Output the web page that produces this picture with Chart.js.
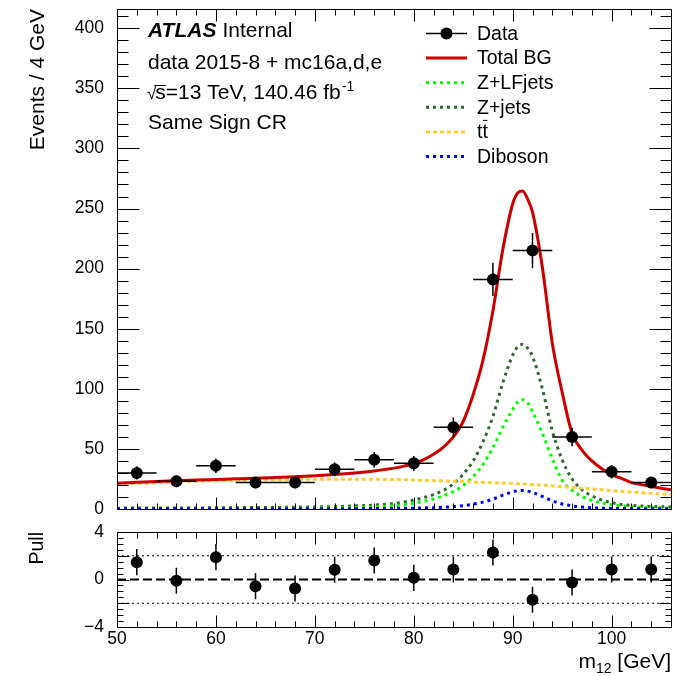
<!DOCTYPE html>
<html>
<head>
<meta charset="utf-8">
<script src="https://cdn.jsdelivr.net/npm/chart.js@4.4.1/dist/chart.umd.min.js"></script>
<style>
  html, body { margin: 0; padding: 0; background: #fff; }
  #wrap { position: relative; width: 692px; height: 676px; }
  #main { position: absolute; left: 0; top: 0; }
  #pull { position: absolute; left: 0; top: 520px; }
</style>
</head>
<body>
<div id="wrap">
  <canvas id="main" width="692" height="520"></canvas>
  <canvas id="pull" width="692" height="156"></canvas>
</div>
<script>
const FONT = '"Liberation Sans", Arial, Helvetica, sans-serif';

// data points (4 GeV bins)
const binCenters = [52, 56, 60, 64, 68, 72, 76, 80, 84, 88, 92, 96, 100, 104];
const binHalfWidth = 2;
const dataCounts = [30, 23, 36, 22, 22, 33, 41, 38, 68, 191, 215, 60, 31, 22];
const dataErr = [5.5, 4.8, 6, 4.7, 4.7, 5.7, 6.4, 6.2, 8.2, 13.8, 14.6, 7.7, 5.6, 4.7];

// pull panel
const pullValues = [1.46, -0.1, 1.88, -0.56, -0.76, 0.82, 1.6, 0.14, 0.84, 2.27, -1.71, -0.25, 0.84, 0.84];
const pullErr = [1.1, 1.1, 1.1, 1.1, 1.1, 1.1, 1.1, 1.1, 1.1, 1.1, 1.1, 1.1, 1.1, 1.1];

// background curves
const curveX = [50, 52, 54, 56, 58, 60, 62, 64, 66, 68, 70, 72, 74, 76, 78, 79, 80, 81, 82, 83, 84, 85, 86, 87, 88, 89, 90, 90.5, 91, 91.5, 92, 93, 94, 95, 96, 97, 98, 99, 100, 101, 102, 103, 104, 105, 106];
const totalBG = [21.5, 22.2, 22.9, 23.5, 24.1, 24.6, 25.1, 25.6, 26.2, 26.9, 27.7, 28.7, 30.0, 31.7, 34.0, 35.7, 37.8, 41.0, 45.5, 51.5, 60, 73, 95, 124, 165, 216, 254, 263, 264.5, 258, 247, 201, 138, 97, 63, 49, 40, 33.5, 28.5, 25.5, 22, 20.3, 18.8, 17.3, 16];
const zLFjets = [0.2, 0.2, 0.2, 0.3, 0.3, 0.3, 0.4, 0.4, 0.5, 0.6, 0.7, 0.9, 1.2, 1.8, 2.8, 3.6, 4.8, 6.3, 8.3, 11, 14.5, 19.5, 27, 37, 51, 68, 83, 89, 91, 88.5, 81, 63, 42, 24, 15.5, 10.5, 7.2, 5, 3.6, 2.6, 2, 1.5, 1.2, 1, 0.8];
const zJets = [0.7, 0.8, 0.8, 0.9, 0.9, 1.0, 1.1, 1.2, 1.3, 1.5, 1.7, 2.0, 2.5, 3.2, 4.6, 5.8, 7.4, 9.5, 12, 15.5, 21, 29, 40, 56, 77, 105, 128, 135, 137, 134, 127, 100, 65, 41, 25, 16, 11, 7.5, 5.3, 3.8, 3.0, 2.5, 2.1, 1.9, 1.7];
const ttbar = [20.5, 21.2, 21.8, 22.4, 23.0, 23.5, 23.9, 24.2, 24.5, 24.7, 24.8, 24.8, 24.8, 24.7, 24.5, 24.3, 24.1, 23.8, 23.6, 23.3, 23.1, 22.8, 22.5, 22.2, 21.9, 21.6, 21.2, 21.0, 20.8, 20.6, 20.3, 19.8, 19.2, 18.5, 17.9, 17.2, 16.6, 16.0, 15.3, 14.7, 14.1, 13.5, 13.0, 12.5, 12.0];
const diboson = [0.2, 0.2, 0.2, 0.2, 0.2, 0.2, 0.2, 0.3, 0.3, 0.3, 0.3, 0.3, 0.3, 0.4, 0.5, 0.6, 0.7, 0.9, 1.1, 1.5, 2.0, 2.8, 4.0, 5.7, 8.2, 11.5, 14.3, 15.2, 15.4, 14.9, 13.8, 10.5, 6.8, 4.2, 2.6, 1.6, 1.0, 0.7, 0.5, 0.4, 0.3, 0.3, 0.3, 0.3, 0.3];

// axes
const xMin = 50, xMax = 106;
const mainYMax = 416;
const mainYTicks = [0, 50, 100, 150, 200, 250, 300, 350, 400];
const pullYTicks = [-4, -2, 0, 2, 4];
const xTicks = [50, 60, 70, 80, 90, 100];
const pullRefLevels = [-2, 0, 2];

const pts = ys => curveX.map((x, i) => ({ x: x, y: ys[i] }));

// ROOT style frame with inward ticks
function drawFrame(chart, spec) {
  const ctx = chart.ctx;
  const a = chart.chartArea;
  const xs = chart.scales.x, ys = chart.scales.y;
  const L = a.left + 0.5, R = a.right + 0.5, T = a.top + 0.5, B = a.bottom + 0.5;
  ctx.save();
  ctx.setLineDash([]);
  ctx.strokeStyle = "#000";
  ctx.lineWidth = 1;
  ctx.beginPath();
  ctx.rect(L, T, R - L, B - T);
  ctx.stroke();

  ctx.beginPath();
  let n = Math.round((spec.xMax - spec.xMin) / spec.xMinor);
  for (let i = 0; i <= n; i++) {
    const v = spec.xMin + i * spec.xMinor;
    const major = Math.abs(v / spec.xMajor - Math.round(v / spec.xMajor)) < 1e-6;
    const len = major ? spec.xLen[0] : spec.xLen[1];
    const px = Math.round(xs.getPixelForValue(v)) + 0.5;
    ctx.moveTo(px, B); ctx.lineTo(px, B - len);
    ctx.moveTo(px, T); ctx.lineTo(px, T + len);
  }
  n = Math.floor((spec.yMax - spec.yMin) / spec.yMinor + 1e-6);
  for (let i = 0; i <= n; i++) {
    const v = spec.yMin + i * spec.yMinor;
    const major = Math.abs(v / spec.yMajor - Math.round(v / spec.yMajor)) < 1e-6;
    const len = major ? spec.yLen[0] : spec.yLen[1];
    const py = Math.round(ys.getPixelForValue(v)) + 0.5;
    ctx.moveTo(L, py); ctx.lineTo(L + len, py);
    ctx.moveTo(R, py); ctx.lineTo(R - len, py);
  }
  ctx.stroke();
  ctx.restore();
}

function drawLegend(chart) {
  const ctx = chart.ctx;
  const x0 = 426, x1 = 467, tx = 477, y0 = 33.5, dy = 24.6;
  ctx.save();
  ctx.font = "19.5px " + FONT;
  ctx.textBaseline = "middle";
  ctx.textAlign = "left";
  chart.data.datasets.forEach((ds, i) => {
    if (!ds.inLegend) return;
    const yy = y0 + i * dy;
    if (ds.label === "Data") {
      ctx.strokeStyle = "#000";
      ctx.lineWidth = 1.5;
      ctx.setLineDash([]);
      ctx.beginPath(); ctx.moveTo(x0, yy); ctx.lineTo(x1, yy); ctx.stroke();
      ctx.fillStyle = "#000";
      ctx.beginPath(); ctx.arc((x0 + x1) / 2, yy, 6, 0, Math.PI * 2); ctx.fill();
    } else {
      ctx.strokeStyle = ds.borderColor;
      ctx.lineWidth = ds.borderWidth;
      ctx.setLineDash(ds.borderDash || []);
      ctx.beginPath(); ctx.moveTo(x0, yy); ctx.lineTo(x1, yy); ctx.stroke();
      ctx.setLineDash([]);
    }
    ctx.fillStyle = "#000";
    if (ds.label === "tt") {
      ctx.fillText("tt", tx, yy + 1);
      const w1 = ctx.measureText("t").width, w2 = ctx.measureText("tt").width;
      ctx.strokeStyle = "#000";
      ctx.lineWidth = 1;
      ctx.beginPath(); ctx.moveTo(tx + w1 + 0.5, yy - 11.5); ctx.lineTo(tx + w2 - 0.5, yy - 11.5); ctx.stroke();
    } else {
      ctx.fillText(ds.label, tx, yy + 1);
    }
  });
  ctx.restore();
}

function drawAtlasText(chart) {
  const ctx = chart.ctx;
  const x = 148;
  ctx.save();
  ctx.fillStyle = "#000";
  ctx.textBaseline = "alphabetic";
  ctx.textAlign = "left";
  ctx.font = "italic bold 21px " + FONT;
  ctx.fillText("ATLAS", x, 37);
  const wA = ctx.measureText("ATLAS").width;
  ctx.font = "21px " + FONT;
  ctx.fillText("Internal", x + wA + 6, 37);
  ctx.fillText("data 2015-8 + mc16a,d,e", x, 69);
  // sqrt(s) line
  let cx = x;
  ctx.font = "17px " + FONT;
  ctx.fillText("\u221A", cx - 1, 99);
  cx += ctx.measureText("\u221A").width - 2;
  ctx.font = "21px " + FONT;
  const ws = ctx.measureText("s").width;
  ctx.fillText("s", cx, 99);
  ctx.strokeStyle = "#000";
  ctx.lineWidth = 1;
  ctx.beginPath(); ctx.moveTo(cx - 1, 85.5); ctx.lineTo(cx + ws, 85.5); ctx.stroke();
  cx += ws;
  const rest = "=13 TeV, 140.46 fb";
  ctx.fillText(rest, cx, 99);
  cx += ctx.measureText(rest).width + 1;
  ctx.font = "14px " + FONT;
  ctx.fillText("-1", cx, 91);
  ctx.font = "21px " + FONT;
  ctx.fillText("Same Sign CR", x, 129);
  ctx.restore();
}

const mainPlugin = {
  id: "mainDecor",
  afterDatasetDraw(chart, args) {
    if (args.index !== 0) return;
    const { ctx, scales: { x, y } } = chart;
    ctx.save();
    ctx.strokeStyle = "#000";
    ctx.lineWidth = 1.5;
    ctx.beginPath();
    binCenters.forEach((c, i) => {
      const px = x.getPixelForValue(c);
      const py = y.getPixelForValue(dataCounts[i]);
      ctx.moveTo(x.getPixelForValue(c - binHalfWidth), py);
      ctx.lineTo(x.getPixelForValue(c + binHalfWidth), py);
      ctx.moveTo(px, y.getPixelForValue(dataCounts[i] - dataErr[i]));
      ctx.lineTo(px, y.getPixelForValue(dataCounts[i] + dataErr[i]));
    });
    ctx.stroke();
    ctx.restore();
  },
  afterDraw(chart) {
    drawFrame(chart, { xMin: xMin, xMax: xMax, xMajor: 10, xMinor: 2, xLen: [12, 6],
      yMin: 0, yMax: mainYMax, yMajor: 50, yMinor: 10, yLen: [22, 11] });
    drawLegend(chart);
    drawAtlasText(chart);
  }
};

const pullPlugin = {
  id: "pullDecor",
  afterDatasetDraw(chart, args) {
    if (args.index !== 0) return;
    const { ctx, scales: { x, y } } = chart;
    ctx.save();
    ctx.strokeStyle = "#000";
    ctx.lineWidth = 1.5;
    ctx.beginPath();
    binCenters.forEach((c, i) => {
      const px = x.getPixelForValue(c);
      ctx.moveTo(px, y.getPixelForValue(pullValues[i] - pullErr[i]));
      ctx.lineTo(px, y.getPixelForValue(pullValues[i] + pullErr[i]));
    });
    ctx.stroke();
    ctx.restore();
  },
  afterDraw(chart) {
    drawFrame(chart, { xMin: xMin, xMax: xMax, xMajor: 10, xMinor: 2, xLen: [12, 6],
      yMin: -4, yMax: 4, yMajor: 2, yMinor: 0.5, yLen: [12, 6] });
    // x axis title with subscript
    const ctx = chart.ctx;
    const right = chart.chartArea.right;
    const base = 148;
    ctx.save();
    ctx.fillStyle = "#000";
    ctx.textAlign = "left";
    ctx.textBaseline = "alphabetic";
    ctx.font = "21px " + FONT;
    const wm = ctx.measureText("m").width;
    const wg = ctx.measureText(" [GeV]").width;
    ctx.font = "14px " + FONT;
    const wsub = ctx.measureText("12").width;
    let cx = right - (wm + wsub + wg);
    ctx.font = "21px " + FONT;
    ctx.fillText("m", cx, base);
    cx += wm;
    ctx.font = "14px " + FONT;
    ctx.fillText("12", cx, base + 5);
    cx += wsub;
    ctx.font = "21px " + FONT;
    ctx.fillText(" [GeV]", cx, base);
    ctx.restore();
  }
};

function fixY(width) {
  return function (s) {
    s.width = width;
    s.paddingTop = 0; s.paddingBottom = 0; s.paddingLeft = 0; s.paddingRight = 0;
  };
}

const tickFont = { family: FONT, size: 17.5 };

new Chart(document.getElementById("main").getContext("2d"), {
  type: "line",
  data: {
    datasets: [
      { label: "Data", inLegend: true, data: binCenters.map((c, i) => ({ x: c, y: dataCounts[i] })),
        showLine: false, pointRadius: 6, pointBackgroundColor: "#000", pointBorderWidth: 0, order: 0 },
      { label: "Total BG", inLegend: true, data: pts(totalBG), borderColor: "#cc0000", borderWidth: 3,
        pointRadius: 0, cubicInterpolationMode: "monotone", order: 1 },
      { label: "Z+LFjets", inLegend: true, data: pts(zLFjets), borderColor: "#00ff00", borderWidth: 3,
        borderDash: [3, 4], pointRadius: 0, cubicInterpolationMode: "monotone", order: 4 },
      { label: "Z+jets", inLegend: true, data: pts(zJets), borderColor: "#336633", borderWidth: 3,
        borderDash: [3, 4], pointRadius: 0, cubicInterpolationMode: "monotone", order: 5 },
      { label: "tt", inLegend: true, data: pts(ttbar), borderColor: "#ffcc33", borderWidth: 3,
        borderDash: [4, 3], pointRadius: 0, cubicInterpolationMode: "monotone", order: 3 },
      { label: "Diboson", inLegend: true, data: pts(diboson), borderColor: "#0000ff", borderWidth: 3,
        borderDash: [3, 4], pointRadius: 0, cubicInterpolationMode: "monotone", order: 2 }
    ]
  },
  options: {
    responsive: false,
    animation: false,
    events: [],
    layout: { padding: { left: 0, top: 9, right: 21, bottom: 11 } },
    plugins: { legend: { display: false }, tooltip: { enabled: false } },
    scales: {
      x: { type: "linear", min: xMin, max: xMax, display: false },
      y: {
        type: "linear", min: 0, max: mainYMax,
        afterBuildTicks: s => { s.ticks = mainYTicks.map(v => ({ value: v })); },
        afterFit: fixY(117),
        grid: { display: false },
        border: { display: false },
        ticks: { color: "#000", font: tickFont, padding: 5 },
        title: { display: true, text: "Events / 4 GeV", align: "end", color: "#000",
          font: { family: FONT, size: 21 }, padding: { top: 26, bottom: 0 } }
      }
    }
  },
  plugins: [mainPlugin]
});

const refLine = (level, dash, width) => ({
  data: [{ x: xMin, y: level }, { x: xMax, y: level }],
  borderColor: "#000", borderWidth: width, borderDash: dash, pointRadius: 0, order: 1
});

new Chart(document.getElementById("pull").getContext("2d"), {
  type: "line",
  data: {
    datasets: [
      { label: "Pull", data: binCenters.map((c, i) => ({ x: c, y: pullValues[i] })),
        showLine: false, pointRadius: 6, pointBackgroundColor: "#000", pointBorderWidth: 0, order: 0 },
      refLine(pullRefLevels[0], [2, 3], 1),
      refLine(pullRefLevels[1], [9, 4], 2),
      refLine(pullRefLevels[2], [2, 3], 1)
    ]
  },
  options: {
    responsive: false,
    animation: false,
    events: [],
    layout: { padding: { left: 0, top: 12, right: 21, bottom: 0 } },
    plugins: { legend: { display: false }, tooltip: { enabled: false } },
    scales: {
      x: {
        type: "linear", min: xMin, max: xMax,
        afterBuildTicks: s => { s.ticks = xTicks.map(v => ({ value: v })); },
        afterFit: s => { s.height = 49; s.paddingLeft = 0; s.paddingRight = 0; },
        grid: { display: false },
        border: { display: false },
        ticks: { color: "#000", font: tickFont, padding: -6, maxRotation: 0 }
      },
      y: {
        type: "linear", min: -4, max: 4,
        afterBuildTicks: s => { s.ticks = pullYTicks.map(v => ({ value: v })); },
        afterFit: fixY(117),
        grid: { display: false },
        border: { display: false },
        ticks: { color: "#000", font: tickFont, padding: 5,
          callback: v => (v < 0 ? "\u2212" + Math.abs(v) : String(v)) },
        title: { display: true, text: "Pull", align: "end", color: "#000",
          font: { family: FONT, size: 19.5 }, padding: { top: 26, bottom: 0 } }
      }
    }
  },
  plugins: [pullPlugin]
});
</script>
</body>
</html>
